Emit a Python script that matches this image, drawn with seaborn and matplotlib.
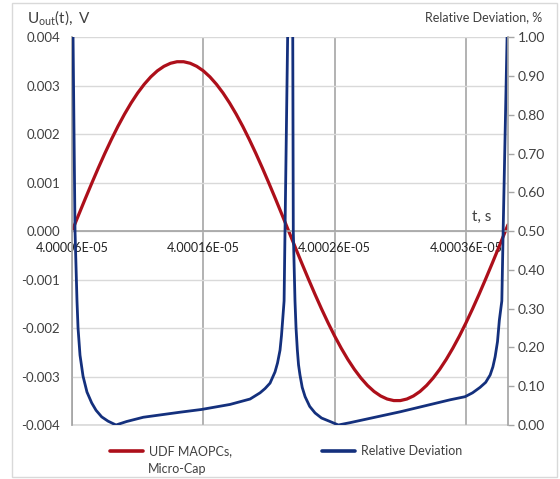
import pandas as pd
import matplotlib
matplotlib.use('Agg')
from matplotlib import pyplot as plt
from matplotlib.lines import Line2D
from matplotlib.patches import Rectangle
import seaborn as sns

# time axis: offset after t0, in units of 10 ps
t0 = 4.00006e-05
unit = 1e-11
t_end = 332

red_t = [0, 5, 10, 15, 20, 25, 30, 35, 40, 45, 50, 55, 60, 65, 70, 75, 80, 85, 90, 95,
         100, 105, 110, 115, 120, 125, 130, 135, 140, 145, 150, 155, 160, 165,
         170, 175, 180, 185, 190, 195, 200, 205, 210, 215, 220, 225, 230, 235, 240,
         245, 250, 255, 260, 265, 270, 275, 280, 285, 290, 295, 300, 305, 310, 315,
         320, 325, 330, 332]
red_v = [0.0, 0.000333, 0.000663, 0.000986, 0.001301, 0.001604, 0.001892, 0.002164,
         0.002415, 0.002645, 0.002851, 0.003031, 0.003184, 0.003308, 0.003401, 0.003464,
         0.003496, 0.003496, 0.003464, 0.003401, 0.003308, 0.003184, 0.003031, 0.002851,
         0.002645, 0.002415, 0.002164, 0.001892, 0.001604, 0.001301, 0.000986, 0.000663,
         0.000333, 0.0,
         -0.000333, -0.000663, -0.000986, -0.001301, -0.001604, -0.001892, -0.002164,
         -0.002415, -0.002645, -0.002851, -0.003031, -0.003184, -0.003308, -0.003401,
         -0.003464, -0.003496, -0.003496, -0.003464, -0.003401, -0.003308, -0.003184,
         -0.003031, -0.002851, -0.002645, -0.002415, -0.002164, -0.001892, -0.001604,
         -0.001301, -0.000986, -0.000663, -0.000333, 0.0, 0.000133]

blue_t = [0, 0.8, 2.3, 3.8, 4.6, 6.1, 8.4, 11.4, 15.0, 18.3, 22.6, 27.4, 33.5, 41.6,
          54.3, 82.3, 98.5, 120.3, 135.6, 143.2, 147.0, 150.8, 154.6, 156.5, 158.4,
          159.5, 160.4, 161.5, 162.2, 164.2, 166.0, 168.1, 168.5, 169.8, 170.6, 171.6,
          172.5, 173.6, 175.3, 177.5, 181.0, 185.1, 190.0, 196.5, 202.8,
          211.7, 249.8, 287.9, 299.3, 305.0, 310.7, 315.0, 318.4, 320.5, 322.2, 324.0,
          325.4, 327.3, 328.3, 331.3, 332]
blue_v = [1.6, 1.0, 0.5, 0.32, 0.25, 0.18, 0.126, 0.085, 0.057, 0.038, 0.021, 0.01,
          0.0, 0.009, 0.02, 0.033, 0.04, 0.053, 0.067, 0.083, 0.094, 0.108, 0.137,
          0.16, 0.193, 0.23, 0.27, 0.32, 0.5, 1.0, 3.0, 1.0, 0.5, 0.32, 0.25, 0.193,
          0.155, 0.129, 0.097, 0.073, 0.048, 0.031, 0.018, 0.009, 0.0,
          0.006, 0.034, 0.065, 0.073, 0.083, 0.097, 0.11, 0.129, 0.15, 0.176, 0.215,
          0.27, 0.32, 0.5, 1.0, 1.3]

x_ticks = [4.00006e-05, 4.00016e-05, 4.00026e-05, 4.00036e-05]
y_left_ticks = [-0.004, -0.003, -0.002, -0.001, 0.0, 0.001, 0.002, 0.003, 0.004]
y_right_ticks = [0.0, 0.1, 0.2, 0.3, 0.4, 0.5, 0.6, 0.7, 0.8, 0.9, 1.0]

red_df = pd.DataFrame({'t': [t0 + p * unit for p in red_t], 'u': red_v})
blue_df = pd.DataFrame({'t': [t0 + p * unit for p in blue_t], 'dev': blue_v})

sns.set_theme(style='white')
plt.rcParams['font.family'] = ['Lato', 'DejaVu Sans']
plt.rcParams['axes.unicode_minus'] = False

red = '#ad0f1a'
blue = '#14307d'
txt = '#404040'
grid_dark = '#a6a6a6'
grid_light = '#d9d9d9'

W, H = 560, 479
fig = plt.figure(figsize=(W / 100, H / 100), dpi=100)
fig.patches.append(Rectangle((12 / W, 1 - 477 / H), (557 - 12) / W, (477 - 3) / H,
                             transform=fig.transFigure, fill=False,
                             edgecolor=grid_light, lw=1))

ax = fig.add_axes([72 / W, 1 - 425 / H, (508 - 72) / W, (425 - 37.3) / H])
ax2 = ax.twinx()

sns.lineplot(data=red_df, x='t', y='u', ax=ax, color=red, lw=2.3, legend=False)
sns.lineplot(data=blue_df, x='t', y='dev', ax=ax2, color=blue, lw=2.0, legend=False)

ax.set_xlim(t0, t0 + t_end * unit)
ax.set_ylim(-0.004, 0.004)
ax2.set_ylim(0, 1)

ax.set_xticks(x_ticks)
ax.set_xticklabels(['{:.5E}'.format(v) for v in x_ticks])
ax.set_yticks(y_left_ticks)
ax.set_yticklabels(['{:.3f}'.format(v) for v in y_left_ticks])
ax2.set_yticks(y_right_ticks)
ax2.set_yticklabels(['{:.2f}'.format(v) for v in y_right_ticks])

ax.set_xlabel('')
ax.set_ylabel('')
ax2.set_ylabel('')

ax.grid(axis='x', color=grid_dark, lw=1.2)
ax.grid(axis='y', color=grid_light, lw=1.0)
ax.axhline(-0.004, color=grid_light, lw=1.2, clip_on=False, zorder=0)
ax.set_axisbelow(True)

for s in ['top', 'right']:
    ax.spines[s].set_visible(False)
ax.spines['bottom'].set_position(('data', 0))
ax.spines['bottom'].set_color(grid_dark)
ax.spines['left'].set_color(grid_dark)
for s in ['top', 'left', 'bottom']:
    ax2.spines[s].set_visible(False)
ax2.spines['right'].set_color(grid_dark)

ax.tick_params(axis='x', length=0, pad=8, labelsize=9, labelcolor='#222222')
ax.tick_params(axis='y', length=0, pad=8.5, labelsize=9.5, labelcolor=txt)
ax2.tick_params(axis='y', direction='out', length=4, width=1, color=grid_dark,
                pad=3, labelsize=10, labelcolor=txt)

fig.text(27 / W, 1 - 18 / H, r'$\mathregular{U_{out}(t),}$ V', fontsize=11,
         color=txt, va='center', ha='left')
fig.text(542 / W, 1 - 17 / H, 'Relative Deviation, %', fontsize=9,
         color=txt, va='center', ha='right')
fig.text(472 / W, 1 - 217 / H, 't, s', fontsize=11, color=txt, va='center', ha='left')

leg1 = fig.legend(handles=[Line2D([], [], color=red, lw=2.6)], labels=['UDF MAOPCs,'],
                  loc='center left', bbox_to_anchor=(110 / W, 1 - 451 / H),
                  frameon=False, borderpad=0, borderaxespad=0, handlelength=2.6,
                  handletextpad=0.5, fontsize=9)
for t in leg1.get_texts():
    t.set_color(txt)
fig.text(148 / W, 1 - 469 / H, 'Micro-Cap', fontsize=9, color=txt, va='center')
leg2 = fig.legend(handles=[Line2D([], [], color=blue, lw=2.6)], labels=['Relative Deviation'],
                  loc='center left', bbox_to_anchor=(322 / W, 1 - 451 / H),
                  frameon=False, borderpad=0, borderaxespad=0, handlelength=2.6,
                  handletextpad=0.5, fontsize=9)
for t in leg2.get_texts():
    t.set_color(txt)

fig.savefig('out.png', dpi=100)
